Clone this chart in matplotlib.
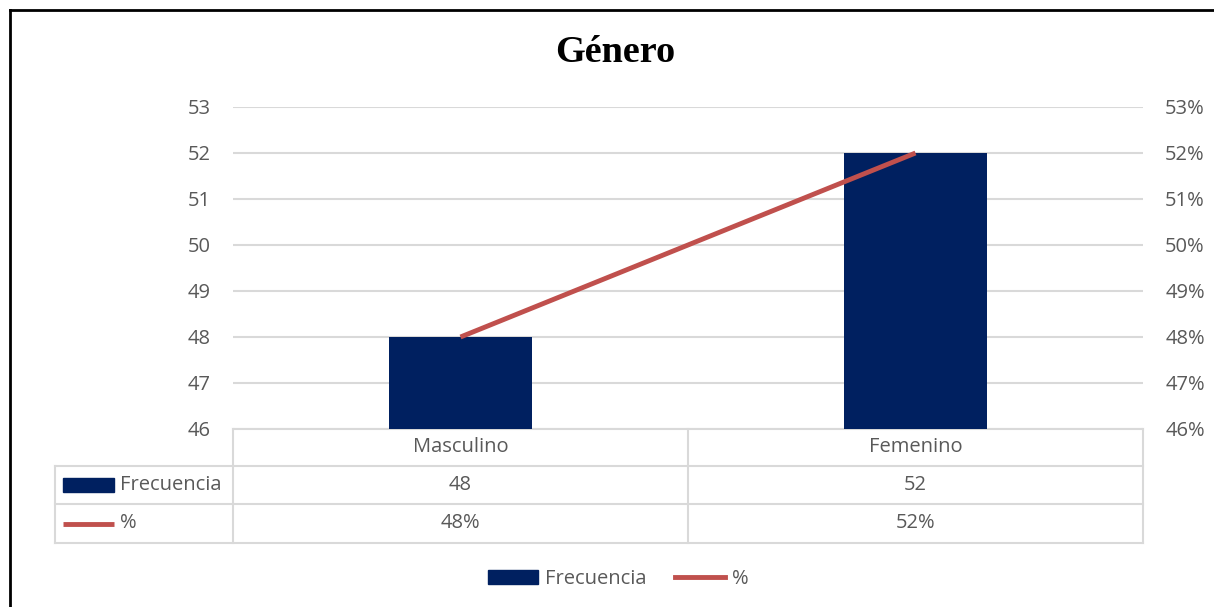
import matplotlib
matplotlib.use("Agg")
import matplotlib.pyplot as plt
import matplotlib.transforms as mtransforms
from matplotlib.lines import Line2D
from matplotlib.patches import Patch

categories = ["Masculino", "Femenino"]
frecuencia = [48, 52]
porcentaje = [0.48, 0.52]
left_ticks = [46, 47, 48, 49, 50, 51, 52, 53]
right_ticks = [0.46, 0.47, 0.48, 0.49, 0.50, 0.51, 0.52, 0.53]

BLUE = "#002060"
RED = "#C0504D"
GRID = "#D9D9D9"
TXT = "#595959"
FONT = "Open Sans"
FS = 14.5

plt.rcParams["font.family"] = [FONT, "DejaVu Sans"]

fig = plt.figure(figsize=(12.14, 6.07), dpi=100)
ax = fig.add_axes([233 / 1214, 1 - 429 / 607, 910 / 1214, 322 / 607])
x = list(range(len(categories)))
ax.bar(x, frecuencia, width=0.315, color=BLUE, zorder=3)
ax.set_xlim(-0.5, len(categories) - 0.5)
ax.set_ylim(left_ticks[0], left_ticks[-1])
ax.set_yticks(left_ticks)
ax.set_xticks([])
ax.yaxis.grid(True, color=GRID, lw=1.5)
ax.set_axisbelow(True)
for s in ax.spines.values():
    s.set_visible(False)
ax.tick_params(axis="y", length=0, pad=16, labelsize=FS, labelcolor=TXT)

ax2 = ax.twinx()
ax2.plot(x, porcentaje, color=RED, lw=3.5, solid_capstyle="butt", zorder=4)
ax2.set_ylim(right_ticks[0], right_ticks[-1])
ax2.set_yticks(right_ticks)
ax2.set_yticklabels([f"{v:.0%}" for v in right_ticks])
for s in ax2.spines.values():
    s.set_visible(False)
ax2.tick_params(axis="y", length=0, pad=16, labelsize=FS, labelcolor=TXT)

# data table under the plot
ah = 322.0
rows = [0, -37 / ah, -75 / ah, -114 / ah]
xl = (55 - 233) / 910
tcol = dict(color=GRID, lw=1.5, transform=ax.transAxes, clip_on=False)
ax.add_line(Line2D([0, 1], [rows[0]] * 2, **tcol))
for r in rows[1:]:
    ax.add_line(Line2D([xl, 1], [r] * 2, **tcol))
ax.add_line(Line2D([xl, xl], [rows[1], rows[3]], **tcol))
blend = mtransforms.blended_transform_factory(ax.transData, ax.transAxes)
for xv in [-0.5 + i for i in range(len(categories) + 1)]:
    ax.add_line(Line2D([xv, xv], [rows[0], rows[3]], color=GRID, lw=1.5,
                       transform=blend, clip_on=False))
mid = [(rows[i] + rows[i + 1]) / 2 for i in range(3)]
for i, cat in enumerate(categories):
    ax.text(i, mid[0], cat, transform=blend, ha="center", va="center", fontsize=FS, color=TXT)
    ax.text(i, mid[1], f"{frecuencia[i]}", transform=blend, ha="center", va="center", fontsize=FS, color=TXT)
    ax.text(i, mid[2], f"{porcentaje[i]:.0%}", transform=blend, ha="center", va="center", fontsize=FS, color=TXT)

# legend keys inside the table
kx0, kx1 = (63 - 233) / 910, (114 - 233) / 910
ax.add_patch(plt.Rectangle((kx0, mid[1] - 0.022), kx1 - kx0, 0.044, color=BLUE,
                           transform=ax.transAxes, clip_on=False))
ax.add_line(Line2D([kx0, kx1], [mid[2]] * 2, color=RED, lw=3.5, transform=ax.transAxes,
                   clip_on=False, solid_capstyle="butt"))
ax.text((120 - 233) / 910, mid[1], "Frecuencia", transform=ax.transAxes, ha="left", va="center",
        fontsize=FS, color=TXT)
ax.text((120 - 233) / 910, mid[2], "%", transform=ax.transAxes, ha="left", va="center",
        fontsize=FS, color=TXT)

fig.text(0.507, 1 - 53 / 607, "Género", ha="center", va="center", fontsize=27.5,
         fontweight="bold", family="Liberation Serif")

handles = [Patch(color=BLUE, label="Frecuencia"), Line2D([], [], color=RED, lw=3.5, label="%")]
fig.legend(handles=handles, loc="center", bbox_to_anchor=(0.5095, 1 - 579 / 607), ncol=2,
           frameon=False, fontsize=FS, labelcolor=TXT, handlelength=2.5, handleheight=0.7,
           handletextpad=0.35, columnspacing=1.4)

# outer chart border (cut off at the right and bottom)
fig.add_artist(Line2D([10 / 1214, 10 / 1214], [0, 1 - 10 / 607], color="black", lw=2,
                      transform=fig.transFigure))
fig.add_artist(Line2D([10 / 1214, 1], [1 - 10 / 607] * 2, color="black", lw=2,
                      transform=fig.transFigure))

fig.savefig("out.png", dpi=100)
